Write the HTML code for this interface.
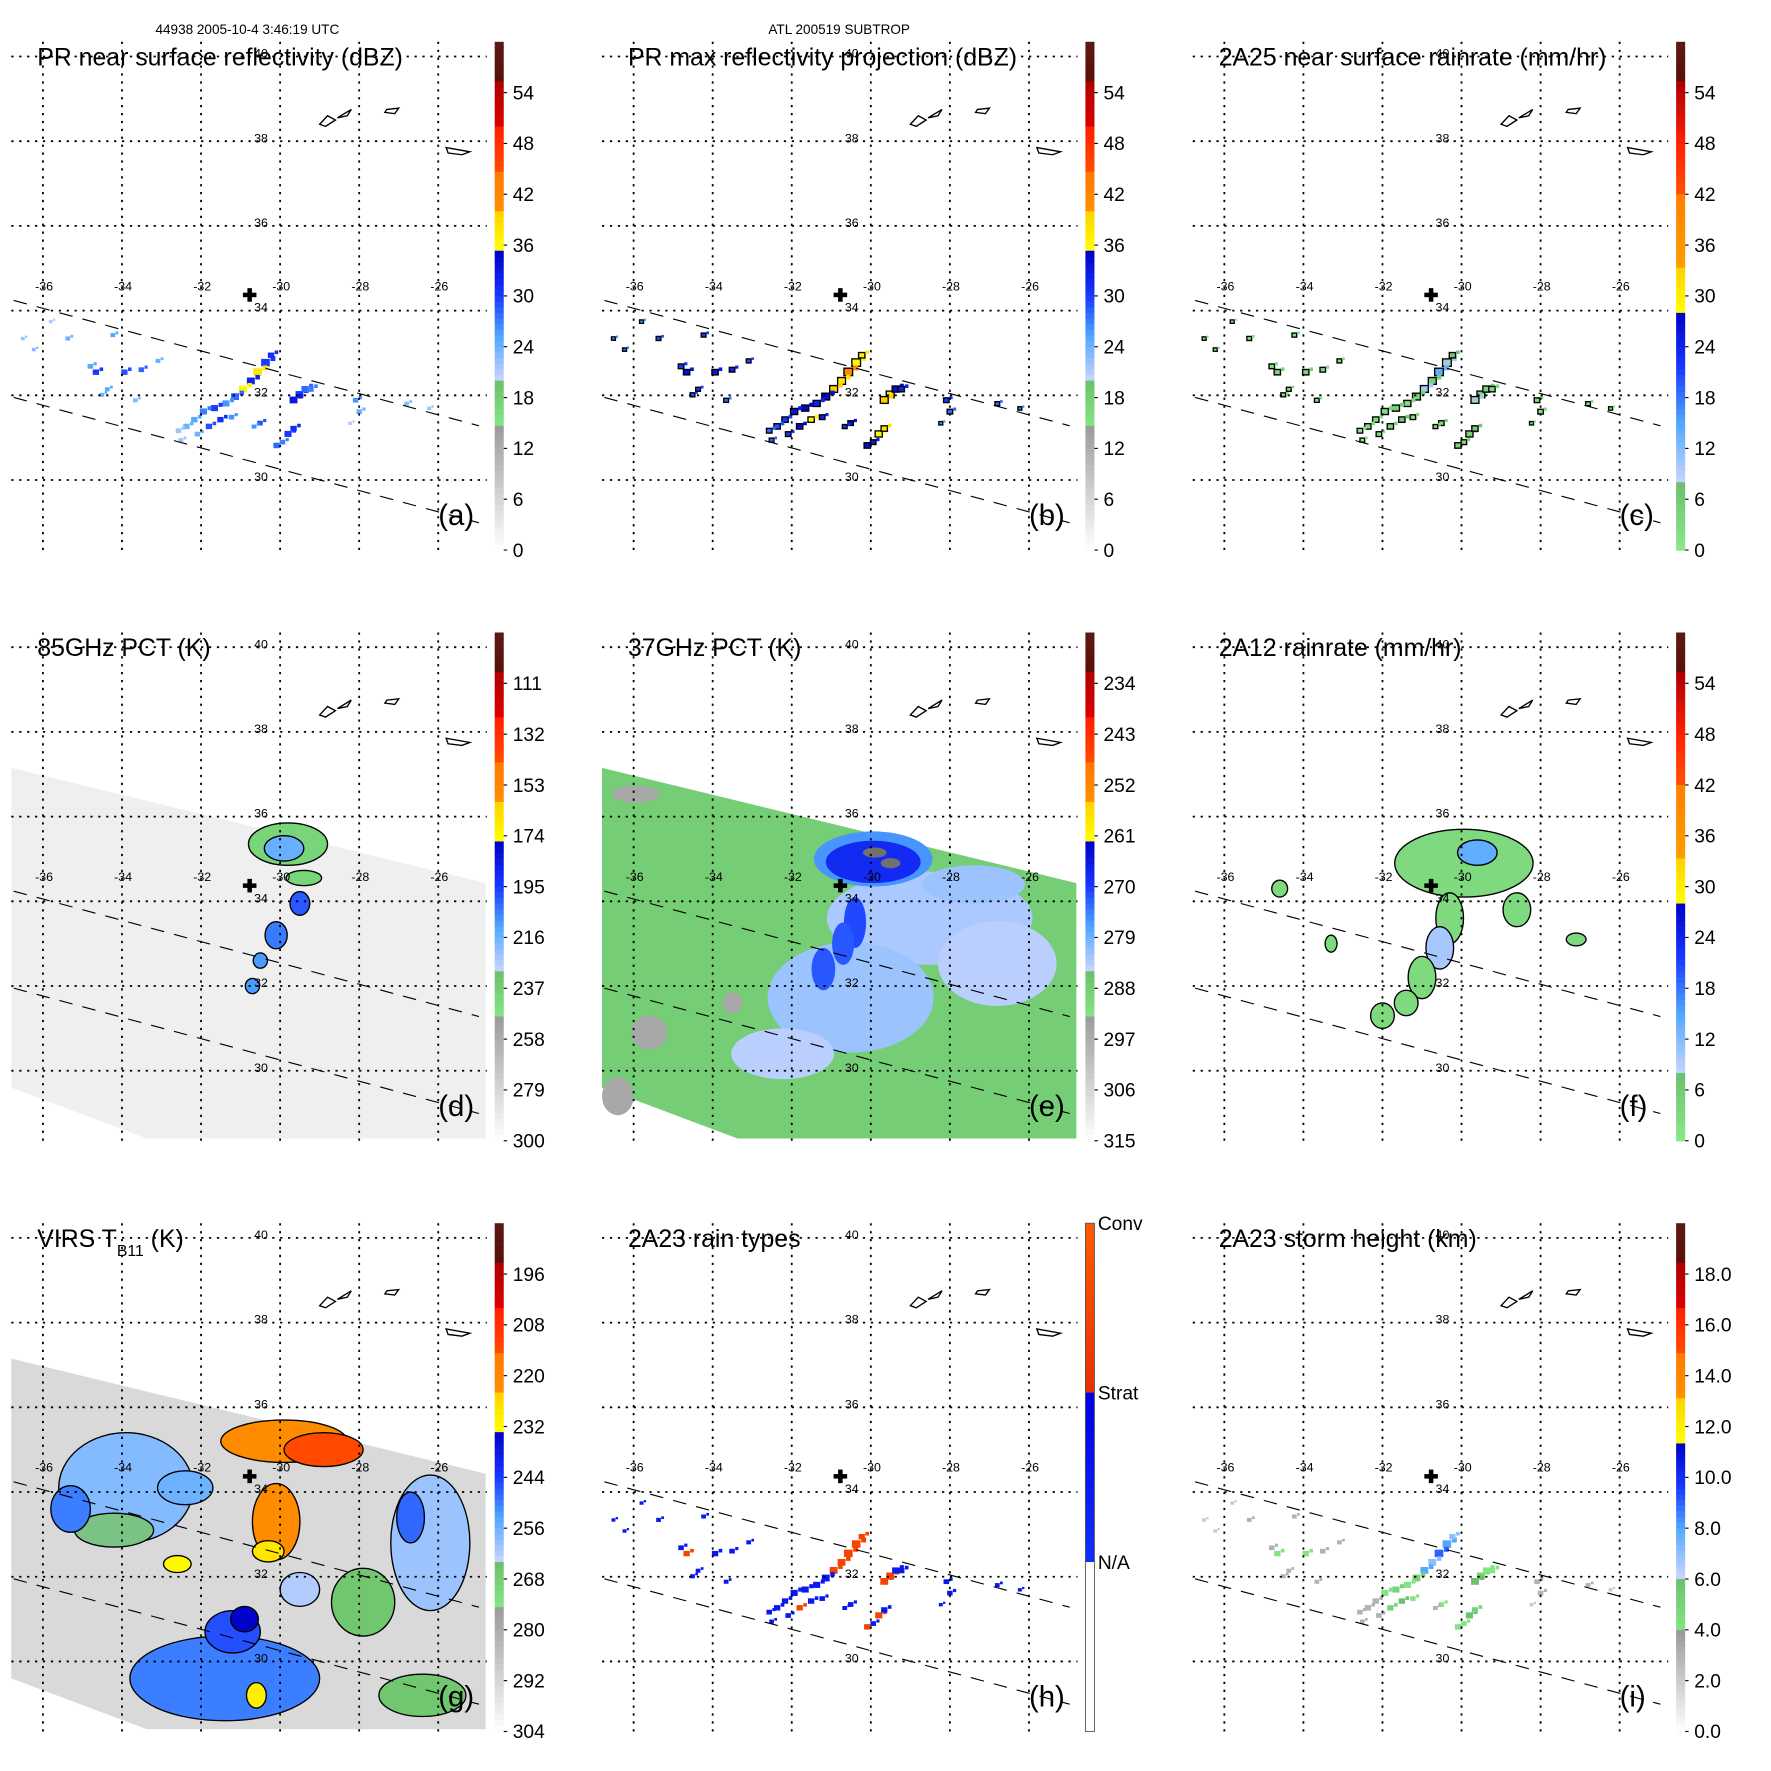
<!DOCTYPE html>
<html><head><meta charset="utf-8">
<style>
html,body{margin:0;padding:0;background:#fff;}
svg{display:block;font-family:"Liberation Sans",Arial,sans-serif;}
</style></head>
<body>
<svg id="fig" xmlns="http://www.w3.org/2000/svg" width="1771" height="1771" viewBox="0 0 1568 1568">
<rect x="0" y="0" width="1568" height="1568" fill="#fff"/>
<text x="219" y="30" font-size="12" text-anchor="middle">44938 2005-10-4 3:46:19 UTC</text>
<text x="743" y="30" font-size="12" text-anchor="middle">ATL 200519 SUBTROP</text>
</svg>
<script>
// ---------- data ----------
const lonTicks = [-36,-34,-32,-30,-28,-26];
const latTicks = [40,38,36,34,32,30];
const centerLon = -30.77, centerLat = 34.37;
const swathUpper = [[-36.74,34.24],[-24.97,31.28]];
const swathLower = [[-36.74,31.95],[-24.97,28.99]];
const imgSwath = [[-36.8,37.15],[-24.8,34.43],[-24.8,28.4],[-33.37,28.4],[-36.8,29.6]];

const titles = ["PR near surface reflectivity (dBZ)","PR max reflectivity projection (dBZ)","2A25 near surface rainrate (mm/hr)","85GHz PCT (K)","37GHz PCT (K)","2A12 rainrate (mm/hr)","VIRS T","2A23 rain types","2A23 storm height (km)"];
const panelLetters = ["(a)","(b)","(c)","(d)","(e)","(f)","(g)","(h)","(i)"];
const tickLabelsA = ["0","6","12","18","24","30","36","42","48","54"];
const tickLabelsC = ["0","6","12","18","24","30","36","42","48","54"];
const tickLabelsD = ["300","279","258","237","216","195","174","153","132","111"];
const tickLabelsE = ["315","306","297","288","279","270","261","252","243","234"];
const tickLabelsF = ["0","6","12","18","24","30","36","42","48","54"];
const tickLabelsG = ["304","292","280","268","256","244","232","220","208","196"];
const tickLabelsI = ["0.0","2.0","4.0","6.0","8.0","10.0","12.0","14.0","16.0","18.0"];
const rainTypeLabels = ["N/A","Strat","Conv"];

// PR rain pixels (lon, lat)
const rainLon = [-30.37,-30.57,-30.74,-30.94,-31.14,-31.37,-31.66,-31.94,-32.17,-32.37,-32.57,-31.8,-31.51,-31.23,-32.09,-32.51,-29.51,-29.37,-29.66,-29.23,-28.09,-28.0,-34.8,-34.66,-33.94,-33.51,-33.09,-36.51,-36.23,-35.8,-35.37,-34.23,-30.09,-29.8,-29.66,-29.94,-30.51,-30.66,-26.8,-26.23,-28.23,-34.51,-34.37,-33.66,-30.23];
const rainLat = [32.75,32.53,32.32,32.13,31.95,31.79,31.68,31.6,31.41,31.25,31.15,31.25,31.41,31.47,31.07,30.93,32.0,32.13,31.87,32.13,31.87,31.6,32.67,32.53,32.53,32.59,32.8,33.33,33.07,33.73,33.33,33.41,30.8,31.07,31.2,30.88,31.33,31.25,31.79,31.68,31.33,32.0,32.13,31.87,32.93];
const nearSurfDbz = [30,38,32,36,28,26,30,27,25,24,22,29,31,26,24,22,30,28,33,27,26,24,25,30,29,28,24,22,23,21,24,25,28,30,31,27,29,26,23,22,21,24,25,23,31];
const maxDbz = [36,42,38,40,34,32,35,33,30,29,28,34,36,32,30,28,38,34,40,32,30,28,30,34,33,32,29,27,28,26,29,30,34,36,38,33,34,31,28,27,26,29,30,28,37];
const rainRate = [8,14,5,10,4,3,5,3,2,2,1,4,6,3,2,1,5,4,8,3,3,2,2,4,4,3,2,1,1,1,2,2,4,5,6,3,4,3,2,1,1,2,2,2,7];
const rainType = [2,2,2,2,1,1,1,1,1,1,1,2,1,1,1,1,2,1,2,1,1,1,1,2,1,1,1,1,1,1,1,1,2,2,1,1,1,1,1,1,1,1,1,1,2];
const stormHeight = [8,9,7,8,5,4,5,4,3,3,3,5,6,4,3,3,5,4,6,4,3,3,3,4,4,3,3,2,2,2,3,3,4,6,5,4,4,3,3,2,2,3,3,3,7];
const rainSize = [0.22,0.22,0.2,0.2,0.2,0.18,0.18,0.18,0.16,0.16,0.14,0.16,0.16,0.14,0.14,0.12,0.2,0.18,0.2,0.16,0.14,0.14,0.14,0.16,0.16,0.14,0.12,0.1,0.1,0.1,0.12,0.12,0.16,0.18,0.16,0.14,0.14,0.12,0.12,0.1,0.1,0.12,0.12,0.12,0.16];

// 85GHz PCT features: lon, lat, rlon, rlat, K
const pct85Lon = [-29.8,-29.9,-29.4,-29.5,-30.1,-30.5,-30.7];
const pct85Lat = [35.35,35.25,34.55,33.95,33.2,32.6,32.0];
const pct85Rx = [1.0,0.5,0.45,0.25,0.28,0.18,0.18];
const pct85Ry = [0.5,0.3,0.18,0.28,0.32,0.18,0.18];
const pct85Val = [240,215,240,200,205,210,210];
const pct85Bg = 292;

// 37GHz PCT features
const pct37Lon = [-28.51,-30.51,-26.8,-32.23,-27.4,-29.94,-29.94,-30.4,-30.7,-31.2,-29.9,-29.5,-35.94,-35.6,-36.4,-33.5];
const pct37Lat = [33.6,31.73,32.53,30.4,34.4,35.0,34.93,33.5,33.0,32.4,35.15,34.9,36.53,30.9,29.4,31.6];
const pct37Rx = [2.6,2.1,1.5,1.3,1.3,1.5,1.2,0.28,0.28,0.3,0.3,0.25,0.6,0.45,0.4,0.25];
const pct37Ry = [1.1,1.3,1.0,0.6,0.45,0.65,0.5,0.6,0.5,0.5,0.12,0.12,0.2,0.4,0.45,0.25];
const pct37Val = [283,282,284,284,282,276,268,271,272,272,262,262,296,296,296,296];
const pct37Bg = 288;

// 2A12 rain features
const tmiLon = [-29.94,-29.6,-30.3,-30.55,-31.0,-31.4,-32.0,-28.6,-27.1,-34.6,-33.3];
const tmiLat = [34.9,35.15,33.6,32.9,32.2,31.6,31.3,33.8,33.1,34.3,33.0];
const tmiRx = [1.75,0.5,0.35,0.35,0.35,0.3,0.3,0.35,0.25,0.2,0.15];
const tmiRy = [0.8,0.3,0.6,0.5,0.5,0.3,0.3,0.4,0.15,0.2,0.2];
const tmiVal = [3,14,3,10,3,3,3,3,3,3,3];

// VIRS Tb11 features
const virsLon = [-33.9,-31.4,-26.2,-26.4,-29.9,-28.9,-30.1,-30.3,-34.2,-32.4,-35.3,-31.2,-30.6,-27.9,-26.7,-29.5,-30.9,-32.6];
const virsLat = [34.1,29.6,32.8,29.2,35.2,35.0,33.3,32.6,33.1,34.1,33.6,30.7,29.2,31.4,33.4,31.7,31.0,32.3];
const virsRx = [1.7,2.4,1.0,1.1,1.6,1.0,0.6,0.4,1.0,0.7,0.5,0.7,0.25,0.8,0.35,0.5,0.35,0.35];
const virsRy = [1.3,1.0,1.6,0.5,0.5,0.4,0.9,0.25,0.4,0.4,0.55,0.5,0.3,0.8,0.6,0.4,0.3,0.2];
const virsVal = [258,250,260,266,222,214,222,228,264,256,250,246,230,266,248,262,234,232];
const virsBg = 293;

// coastline (Azores) contours in lon/lat
const islands = [
 [[-29.0,38.4],[-28.8,38.6],[-28.6,38.5],[-28.85,38.35]],
 [[-28.55,38.55],[-28.2,38.75],[-28.3,38.6]],
 [[-27.3,38.75],[-27.0,38.78],[-27.1,38.65],[-27.35,38.68]],
 [[-25.8,37.85],[-25.2,37.75],[-25.4,37.68],[-25.75,37.72]]
];

// ---------- helpers ----------
const svg = document.getElementById('fig');
const NS = 'http://www.w3.org/2000/svg';
function mk(tag, attrs, parent){ const e=document.createElementNS(NS,tag); for(const k in attrs) e.setAttribute(k,attrs[k]); (parent||svg).appendChild(e); return e; }
function px(col,lon){ return col*523 + 38 + (lon+36)*35; }
function py(row,lat){ return row*523 + 50 + (40-lat)*37.5; }
function hex(c){ return [parseInt(c.substr(1,2),16),parseInt(c.substr(3,2),16),parseInt(c.substr(5,2),16)]; }
function interp(stops,f){
  f=Math.max(0,Math.min(1,f));
  for(let i=0;i<stops.length-1;i++){
    if(f>=stops[i][0] && f<=stops[i+1][0]){
      const a=hex(stops[i][1]), b=hex(stops[i+1][1]);
      const t=(f-stops[i][0])/((stops[i+1][0]-stops[i][0])||1);
      return 'rgb('+a.map((v,j)=>Math.round(v+(b[j]-v)*t)).join(',')+')';
    }
  }
  return stops[stops.length-1][1];
}
const stopsA = [[0,'#5a1a12'],[0.08,'#5a0f08'],[0.082,'#b00000'],[0.17,'#e00000'],[0.172,'#ff2000'],[0.25,'#ff4a00'],[0.252,'#ff7800'],[0.33,'#ff9000'],[0.333,'#ffd000'],[0.41,'#ffff00'],[0.412,'#0000c8'],[0.5,'#1838ff'],[0.58,'#50a8ff'],[0.665,'#c8d4ff'],[0.667,'#6cc06c'],[0.75,'#82e482'],[0.752,'#999999'],[1,'#ffffff']];
const stopsC = [[0,'#5a1a12'],[0.08,'#5a0f08'],[0.082,'#b00000'],[0.2,'#ff2000'],[0.3,'#ff5000'],[0.302,'#ff8000'],[0.44,'#ff9c00'],[0.442,'#ffd000'],[0.53,'#ffff00'],[0.532,'#0000c8'],[0.64,'#1838ff'],[0.75,'#50a8ff'],[0.866,'#c8d4ff'],[0.868,'#6cc06c'],[1,'#8ae88a']];
const stopsI = [[0,'#5a1a12'],[0.08,'#5a0f08'],[0.082,'#b00000'],[0.17,'#e00000'],[0.172,'#ff2000'],[0.25,'#ff4a00'],[0.252,'#ff7800'],[0.34,'#ff9000'],[0.342,'#ffd000'],[0.43,'#ffff00'],[0.432,'#0000c8'],[0.52,'#1838ff'],[0.6,'#50a8ff'],[0.695,'#c8d4ff'],[0.697,'#6cc06c'],[0.8,'#82e482'],[0.802,'#999999'],[1,'#ffffff']];
const stopsH = [[0,'#ff5a00'],[0.333,'#e83000'],[0.334,'#0000e0'],[0.666,'#1030ff'],[0.667,'#ffffff'],[1,'#ffffff']];
const panels = [
 {labels:tickLabelsA, stops:stopsA, f:v=>1-v/60},
 {labels:tickLabelsA, stops:stopsA, f:v=>1-v/60},
 {labels:tickLabelsC, stops:stopsC, f:v=>1-v/60},
 {labels:tickLabelsD, stops:stopsA, f:v=>(v-90)/210},
 {labels:tickLabelsE, stops:stopsA, f:v=>(v-225)/90},
 {labels:tickLabelsF, stops:stopsC, f:v=>1-v/60},
 {labels:tickLabelsG, stops:stopsA, f:v=>(v-184)/120},
 {labels:null, stops:stopsH, f:v=>1-(v+0.5)/3},
 {labels:tickLabelsI, stops:stopsI, f:v=>1-v/20}
];
function colorOf(p,v){ return interp(panels[p].stops, panels[p].f(v)); }

function drawSwath(p,col,row,bg){
  const pts = imgSwath.map(q=>px(col,q[0])+','+py(row,q[1])).join(' ');
  const poly = mk('polygon',{points:pts,fill:colorOf(p,bg)});
  
  
}
function blobs(p,col,row,lon,lat,rx,ry,val,outline){
  for(let i=0;i<lon.length;i++){
    const e = mk('ellipse',{cx:px(col,lon[i]),cy:py(row,lat[i]),rx:rx[i]*35,ry:ry[i]*37.5,fill:colorOf(p,val[i]),stroke:outline?'#000':'none','stroke-width':outline?1.2:0});
    
    
  }
}
function specks(p,col,row,vals,outline){
  for(let i=0;i<rainLon.length;i++){
    const s=rainSize[i];
    const r = mk('rect',{x:px(col,rainLon[i])-s*35/2,y:py(row,rainLat[i])-s*37.5/2,width:s*35,height:s*37.5*0.8,fill:colorOf(p,vals[i]),stroke:outline?'#000':'none','stroke-width':outline?1.2:0});
    
    
    const r2 = mk('rect',{x:px(col,rainLon[i])+s*20,y:py(row,rainLat[i])-s*30,width:s*20,height:s*20,fill:colorOf(p,vals[i])});
    
    
  }
}

for(let p=0;p<9;p++){
  const col=p%3,row=Math.floor(p/3);
  const ox=col*523, oy=row*523;
  const g = mk('g',{});
  
  
  if(p===3){ drawSwath(p,col,row,pct85Bg); blobs(p,col,row,pct85Lon,pct85Lat,pct85Rx,pct85Ry,pct85Val,true); }
  if(p===4){ drawSwath(p,col,row,pct37Bg); blobs(p,col,row,pct37Lon,pct37Lat,pct37Rx,pct37Ry,pct37Val,false); }
  if(p===5){ blobs(p,col,row,tmiLon,tmiLat,tmiRx,tmiRy,tmiVal,true); }
  if(p===6){ drawSwath(p,col,row,virsBg); blobs(p,col,row,virsLon,virsLat,virsRx,virsRy,virsVal,true); }
  if(p===0) specks(p,col,row,nearSurfDbz,false);
  if(p===1) specks(p,col,row,maxDbz,true);
  if(p===2) specks(p,col,row,rainRate,true);
  if(p===7) specks(p,col,row,rainType,false);
  if(p===8) specks(p,col,row,stormHeight,false);
  islands.forEach(isl=>{
    const d='M'+isl.map(q=>px(col,q[0])+' '+py(row,q[1])).join(' L')+' Z';
    const e=mk('path',{d:d,fill:'none',stroke:'#000','stroke-width':1.2});
    
    
  });
  [swathUpper,swathLower].forEach(ln=>{
    const e=mk('line',{x1:px(col,ln[0][0]),y1:py(row,ln[0][1]),x2:px(col,ln[1][0]),y2:py(row,ln[1][1]),stroke:'#000','stroke-width':1,'stroke-dasharray':'12,9'});
    
    
  });
  lonTicks.forEach(lo=>{
    const x=px(col,lo);
    const e=mk('line',{x1:x,y1:oy+37,x2:x,y2:oy+487,stroke:'#000','stroke-width':1.6,'stroke-dasharray':'2,5'});
    
    
    const t=mk('text',{x:x+1,y:py(row,34)-18,'font-size':11,'text-anchor':'middle'});
    t.textContent=String(lo);
    
    
  });
  latTicks.forEach(la=>{
    const y=py(row,la);
    const e=mk('line',{x1:ox+10,y1:y,x2:ox+431,y2:y,stroke:'#000','stroke-width':1.6,'stroke-dasharray':'2,5'});
    
    
    const t=mk('text',{x:ox+225,y:y+1,'font-size':11});
    t.textContent=String(la);
    
    
  });
  const cx=px(col,centerLon), cy=py(row,centerLat);
  const c1=mk('rect',{x:cx-6,y:cy-2,width:12,height:4,fill:'#000'});
  
  
  const c2=mk('rect',{x:cx-2,y:cy-6,width:4,height:12,fill:'#000'});
  
  
  const tt=mk('text',{x:ox+33,y:oy+58,'font-size':22});
  
  
  if(p===6){
    tt.textContent='VIRS T';
    const sub=mk('tspan',{'font-size':14,dy:8},tt); sub.textContent='B11';
    const rest=mk('tspan',{'font-size':22,dy:-8},tt); rest.textContent=' (K)';
  } else tt.textContent=titles[p];
  const pl=mk('text',{x:ox+388,y:oy+465,'font-size':26});
  pl.textContent=panelLetters[p];
  
  
  const cb=mk('g',{});
  
  
  const N=90;
  for(let k=0;k<N;k++){
    const f=(k+0.5)/N;
    mk('rect',{x:ox+438,y:oy+37+k*450/N,width:8,height:450/N+0.6,fill:interp(panels[p].stops,f)},cb);
  }
  if(p===7) mk('rect',{x:ox+438,y:oy+37,width:8,height:450,fill:'none',stroke:'#555','stroke-width':0.8},cb);
  if(panels[p].labels){
    panels[p].labels.forEach((lb,i)=>{
      const y=oy+487-i*45;
      mk('line',{x1:ox+446,y1:y,x2:ox+449,y2:y,stroke:'#000','stroke-width':1},cb);
      const t=mk('text',{x:ox+454,y:y+6,'font-size':17},cb);
      t.textContent=lb;
      
      
    });
  } else {
    rainTypeLabels.forEach((lb,i)=>{
      const y=oy+337-i*150;
      const t=mk('text',{x:ox+449,y:y+6,'font-size':17},cb);
      t.textContent=lb;
      
      
    });
  }
}
</script>
</body></html>
